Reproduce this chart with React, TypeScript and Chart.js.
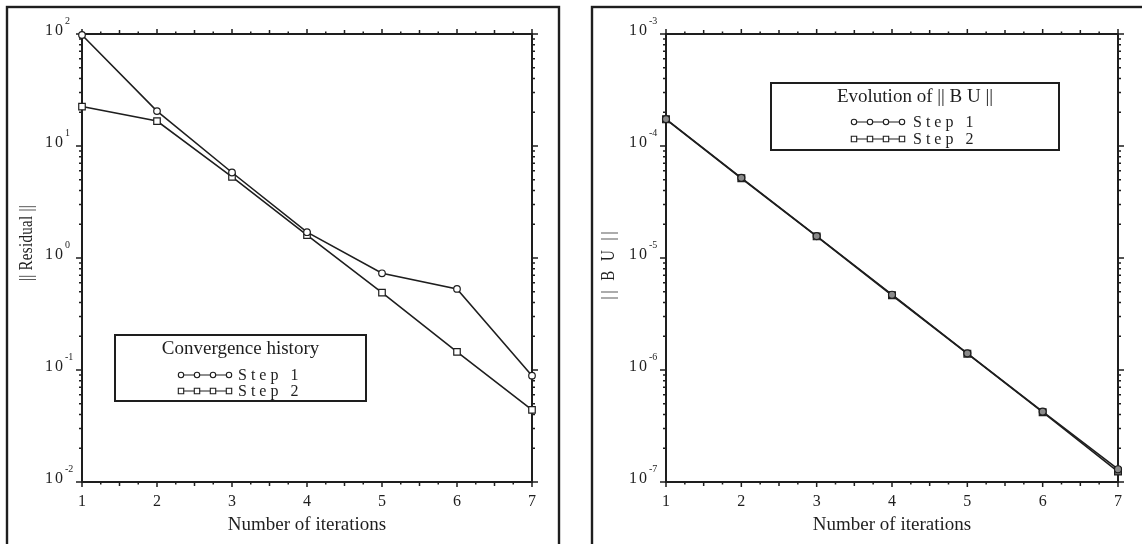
import React, { useEffect, useRef } from "react";
import { Chart, registerables } from "chart.js";

Chart.register(...registerables);

// ---------------- data ----------------
const iterations = [1, 2, 3, 4, 5, 6, 7];
const xTickLabels = ["1", "2", "3", "4", "5", "6", "7"];

const residualStep1 = [98, 20.5, 5.8, 1.7, 0.73, 0.53, 0.089];
const residualStep2 = [22.5, 16.7, 5.3, 1.6, 0.49, 0.145, 0.044];

const buStep1 = [1.74e-4, 5.2e-5, 1.57e-5, 4.7e-6, 1.41e-6, 4.25e-7, 1.3e-7];
const buStep2 = [1.73e-4, 5.15e-5, 1.56e-5, 4.65e-6, 1.4e-6, 4.2e-7, 1.24e-7];

const residualDecades = [-2, -1, 0, 1, 2];
const buDecades = [-7, -6, -5, -4, -3];

const seriesLabels = ["Step 1", "Step 2"];

const FONT = "'Liberation Serif', 'Times New Roman', serif";
const INK = "#1e1e1e";

type Series = {
  label: string;
  data: number[];
  pointStyle: "circle" | "rect";
  radius: number;
  fill: string;
};

type Panel = {
  left: number;
  pad: { left: number; right: number; top: number; bottom: number };
  frame: [number, number, number, number];
  decades: number[];
  yTitle: string;
  yTitleX: number;
  yTitleY: number;
  yTitleSpacing: number;
  legendTitle: string;
  legendBox: [number, number, number, number];
  legendTitleY: number;
  legendRows: number[];
  legendLine: [number, number];
  legendTextX: number;
  series: Series[];
};

const W = 571;
const H = 544;

function drawMarker(ctx: CanvasRenderingContext2D, style: string, x: number, y: number, size: number, fill: string) {
  ctx.beginPath();
  if (style === "circle") {
    ctx.arc(x, y, size, 0, Math.PI * 2);
  } else {
    ctx.rect(x - size, y - size, size * 2, size * 2);
  }
  ctx.fillStyle = fill;
  ctx.fill();
  ctx.stroke();
}

function makeDecor(p: Panel) {
  return {
    id: "decor",
    beforeDatasetsDraw(chart: any) {
      const ctx: CanvasRenderingContext2D = chart.ctx;
      const xs = chart.scales.x;
      const ys = chart.scales.y;
      const { left, right, top, bottom } = chart.chartArea;
      ctx.save();
      ctx.strokeStyle = INK;
      ctx.fillStyle = INK;

      // outer frame
      ctx.lineWidth = 2.4;
      ctx.strokeRect(p.frame[0], p.frame[1], p.frame[2], p.frame[3]);

      // plot box
      ctx.lineWidth = 2;
      ctx.strokeRect(left, top, right - left, bottom - top);

      // x ticks (top and bottom, outward)
      ctx.lineWidth = 1.5;
      const xMin = iterations[0];
      const xMax = iterations[iterations.length - 1];
      const steps = (xMax - xMin) * 4;
      for (let i = 0; i <= steps; i++) {
        const v = xMin + i * 0.25;
        const px = xs.getPixelForValue(v);
        const len = i % 4 === 0 ? 5 : i % 2 === 0 ? 4 : 2.5;
        ctx.beginPath();
        ctx.moveTo(px, bottom);
        ctx.lineTo(px, bottom + len);
        ctx.moveTo(px, top);
        ctx.lineTo(px, top - len);
        ctx.stroke();
      }

      // y ticks (log, left and right, outward)
      for (let k = 0; k < p.decades.length; k++) {
        const d = p.decades[k];
        const py = ys.getPixelForValue(Math.pow(10, d));
        ctx.beginPath();
        ctx.moveTo(left, py);
        ctx.lineTo(left - 6, py);
        ctx.moveTo(right, py);
        ctx.lineTo(right + 6, py);
        ctx.stroke();
        if (k < p.decades.length - 1) {
          for (let m = 2; m <= 9; m++) {
            const pm = ys.getPixelForValue(m * Math.pow(10, d));
            ctx.beginPath();
            ctx.moveTo(left, pm);
            ctx.lineTo(left - 3, pm);
            ctx.moveTo(right, pm);
            ctx.lineTo(right + 3, pm);
            ctx.stroke();
          }
        }
      }

      // y tick labels "10^d"
      for (const d of p.decades) {
        const py = ys.getPixelForValue(Math.pow(10, d));
        ctx.font = `16px ${FONT}`;
        (ctx as any).letterSpacing = "2px";
        ctx.textAlign = "right";
        ctx.textBaseline = "alphabetic";
        ctx.fillText("10", left - 17, py + 1);
        (ctx as any).letterSpacing = "0px";
        ctx.font = `10px ${FONT}`;
        ctx.textAlign = "left";
        ctx.fillText(String(d), left - 17, py - 10);
      }

      // x tick labels
      ctx.font = `16px ${FONT}`;
      ctx.textAlign = "center";
      ctx.textBaseline = "alphabetic";
      for (const lab of xTickLabels) {
        ctx.fillText(lab, xs.getPixelForValue(Number(lab)), bottom + 24);
      }

      // x title
      ctx.font = `19px ${FONT}`;
      ctx.fillText("Number of iterations", (left + right) / 2, bottom + 48);

      // y title
      ctx.save();
      ctx.translate(p.yTitleX, p.yTitleY);
      ctx.rotate(-Math.PI / 2);
      ctx.scale(1, 1.25);
      ctx.font = `15px ${FONT}`;
      (ctx as any).letterSpacing = `${p.yTitleSpacing}px`;
      ctx.textAlign = "center";
      ctx.textBaseline = "middle";
      ctx.fillText(p.yTitle, 0, 0);
      ctx.restore();

      ctx.restore();
    },
    afterDatasetsDraw(chart: any) {
      const ctx: CanvasRenderingContext2D = chart.ctx;
      ctx.save();
      const [bx, by, bw, bh] = p.legendBox;
      ctx.fillStyle = "#ffffff";
      ctx.fillRect(bx, by, bw, bh);
      ctx.strokeStyle = INK;
      ctx.lineWidth = 2;
      ctx.strokeRect(bx, by, bw, bh);

      ctx.fillStyle = INK;
      ctx.font = `19px ${FONT}`;
      ctx.textAlign = "center";
      ctx.textBaseline = "alphabetic";
      ctx.fillText(p.legendTitle, bx + bw / 2, p.legendTitleY);

      p.series.forEach((s, i) => {
        const ry = p.legendRows[i];
        const [x0, x1] = p.legendLine;
        ctx.strokeStyle = INK;
        ctx.lineWidth = 1.1;
        ctx.beginPath();
        ctx.moveTo(x0, ry);
        ctx.lineTo(x1, ry);
        ctx.stroke();
        for (let k = 0; k < 4; k++) {
          const mx = x0 + (k * (x1 - x0)) / 3;
          drawMarker(ctx, s.pointStyle, mx, ry, 2.7, "#ffffff");
        }
        ctx.fillStyle = INK;
        ctx.font = `16px ${FONT}`;
        (ctx as any).letterSpacing = "4px";
        ctx.textAlign = "left";
        ctx.textBaseline = "middle";
        ctx.fillText(s.label, p.legendTextX, ry + 1);
        (ctx as any).letterSpacing = "0px";
      });
      ctx.restore();
    },
  };
}

const panels: Panel[] = [
  {
    left: 0,
    pad: { left: 82, right: 39, top: 34, bottom: 62 },
    frame: [7, 7, 552, 545],
    decades: residualDecades,
    yTitle: "|| Residual ||",
    yTitleX: 27,
    yTitleY: 243,
    yTitleSpacing: 0.3,
    legendTitle: "Convergence history",
    legendBox: [115, 335, 251, 66],
    legendTitleY: 354,
    legendRows: [375, 391],
    legendLine: [181, 229],
    legendTextX: 238,
    series: [
      { label: seriesLabels[0], data: residualStep1, pointStyle: "circle", radius: 3.3, fill: "#ffffff" },
      { label: seriesLabels[1], data: residualStep2, pointStyle: "rect", radius: 4.6, fill: "#ffffff" },
    ],
  },
  {
    left: 571,
    pad: { left: 95, right: 24, top: 34, bottom: 62 },
    frame: [21, 7, 569, 545],
    decades: buDecades,
    yTitle: "|| B U ||",
    yTitleX: 38,
    yTitleY: 264,
    yTitleSpacing: 3,
    legendTitle: "Evolution of || B U ||",
    legendBox: [200, 83, 288, 67],
    legendTitleY: 102,
    legendRows: [122, 139],
    legendLine: [283, 331],
    legendTextX: 342,
    series: [
      { label: seriesLabels[0], data: buStep1, pointStyle: "circle", radius: 3.5, fill: "#8a8a8a" },
      { label: seriesLabels[1], data: buStep2, pointStyle: "rect", radius: 4.8, fill: "#6e6e6e" },
    ],
  },
];

function PanelChart({ panel }: { panel: Panel }) {
  const ref = useRef<HTMLCanvasElement | null>(null);
  useEffect(() => {
    if (!ref.current) return;
    const ys = panel.decades;
    const chart = new Chart(ref.current, {
      type: "line",
      data: {
        datasets: panel.series.map((s) => ({
          label: s.label,
          data: iterations.map((x, i) => ({ x, y: s.data[i] })),
          borderColor: INK,
          borderWidth: 1.6,
          pointStyle: s.pointStyle,
          pointRadius: s.radius,
          pointBackgroundColor: s.fill,
          pointBorderColor: INK,
          pointBorderWidth: 1.2,
          tension: 0,
          fill: false,
          clip: false,
        })),
      },
      options: {
        animation: false,
        responsive: false,
        devicePixelRatio: 1,
        layout: { padding: panel.pad },
        scales: {
          x: { type: "linear", min: iterations[0], max: iterations[iterations.length - 1], display: false },
          y: {
            type: "logarithmic",
            min: Math.pow(10, ys[0]),
            max: Math.pow(10, ys[ys.length - 1]),
            display: false,
          },
        },
        plugins: { legend: { display: false }, tooltip: { enabled: false } },
      } as any,
      plugins: [makeDecor(panel) as any],
    });
    return () => chart.destroy();
  }, [panel]);
  return (
    <canvas
      ref={ref}
      width={W}
      height={H}
      style={{ position: "absolute", left: panel.left, top: 0, width: W, height: H }}
    />
  );
}

export default function App() {
  return (
    <div style={{ position: "absolute", left: 0, top: 0, width: 1142, height: 544, background: "#ffffff", overflow: "hidden" }}>
      {panels.map((p, i) => (
        <PanelChart key={i} panel={p} />
      ))}
    </div>
  );
}
